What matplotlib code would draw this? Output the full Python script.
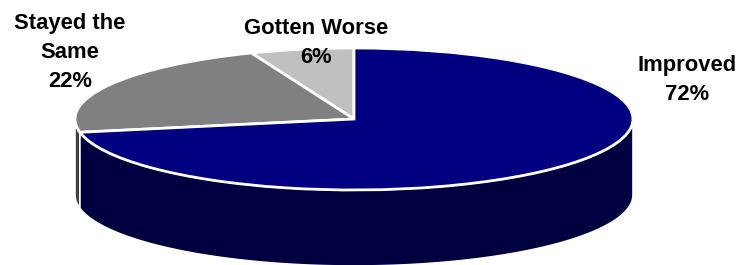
import numpy as np
import matplotlib
matplotlib.use("Agg")
import matplotlib.pyplot as plt

# data (counter-clockwise from 12 o'clock)
labels = ["Gotten Worse", "Stayed the\nSame", "Improved"]
values = [6, 22, 72]
top_colors = ["#C0C0C0", "#808080", "#000080"]
side_colors = ["#606060", "#404040", "#000040"]

# geometry of the tilted pie, in pixels
W, H = 744, 265
cx, cy = 354, 119       # centre of the top ellipse
rx, ry = 279, 71        # radii
depth = 76              # thickness of the side

fig = plt.figure(figsize=(W / 100, H / 100), dpi=100)
ax = fig.add_axes([0, 0, 1, 1])

# top face: a unit-circle pie, squeezed into an ellipse by the axis limits
wedges, _ = ax.pie(values, colors=top_colors, startangle=90, counterclock=True,
                   wedgeprops=dict(edgecolor="white", linewidth=2, zorder=3))

# side: only the front half (180..360 deg) is visible
d = depth / ry
bounds = 90 + 360 * np.concatenate([[0], np.cumsum(values)]) / sum(values)
for i in range(len(values)):
    for shift in (0, 360):
        lo = max(bounds[i], 180 + shift)
        hi = min(bounds[i + 1], 360 + shift)
        if hi <= lo:
            continue
        t = np.radians(np.linspace(lo, hi, 100))
        xs = np.concatenate([np.cos(t), np.cos(t[::-1])])
        ys = np.concatenate([np.sin(t), np.sin(t[::-1]) - d])
        ax.fill(xs, ys, color=side_colors[i], edgecolor="white", linewidth=1.2, zorder=2)

ax.set_aspect("auto")
ax.set_xlim(-cx / rx, (W - cx) / rx)
ax.set_ylim(-(H - cy) / ry, cy / ry)
ax.axis("off")

# labels (pixel positions of the last-line baselines)
label_pos = [(316, 63), (70, 87), (687, 100)]
for lab, v, (px, py) in zip(labels, values, label_pos):
    fig.text(px / W, 1 - py / H, f"{lab}\n{v}%", ha="center", va="baseline",
             fontsize=15.8, fontweight="bold", family="Liberation Sans",
             linespacing=1.5, color="black")

fig.savefig("out.png", dpi=100)
